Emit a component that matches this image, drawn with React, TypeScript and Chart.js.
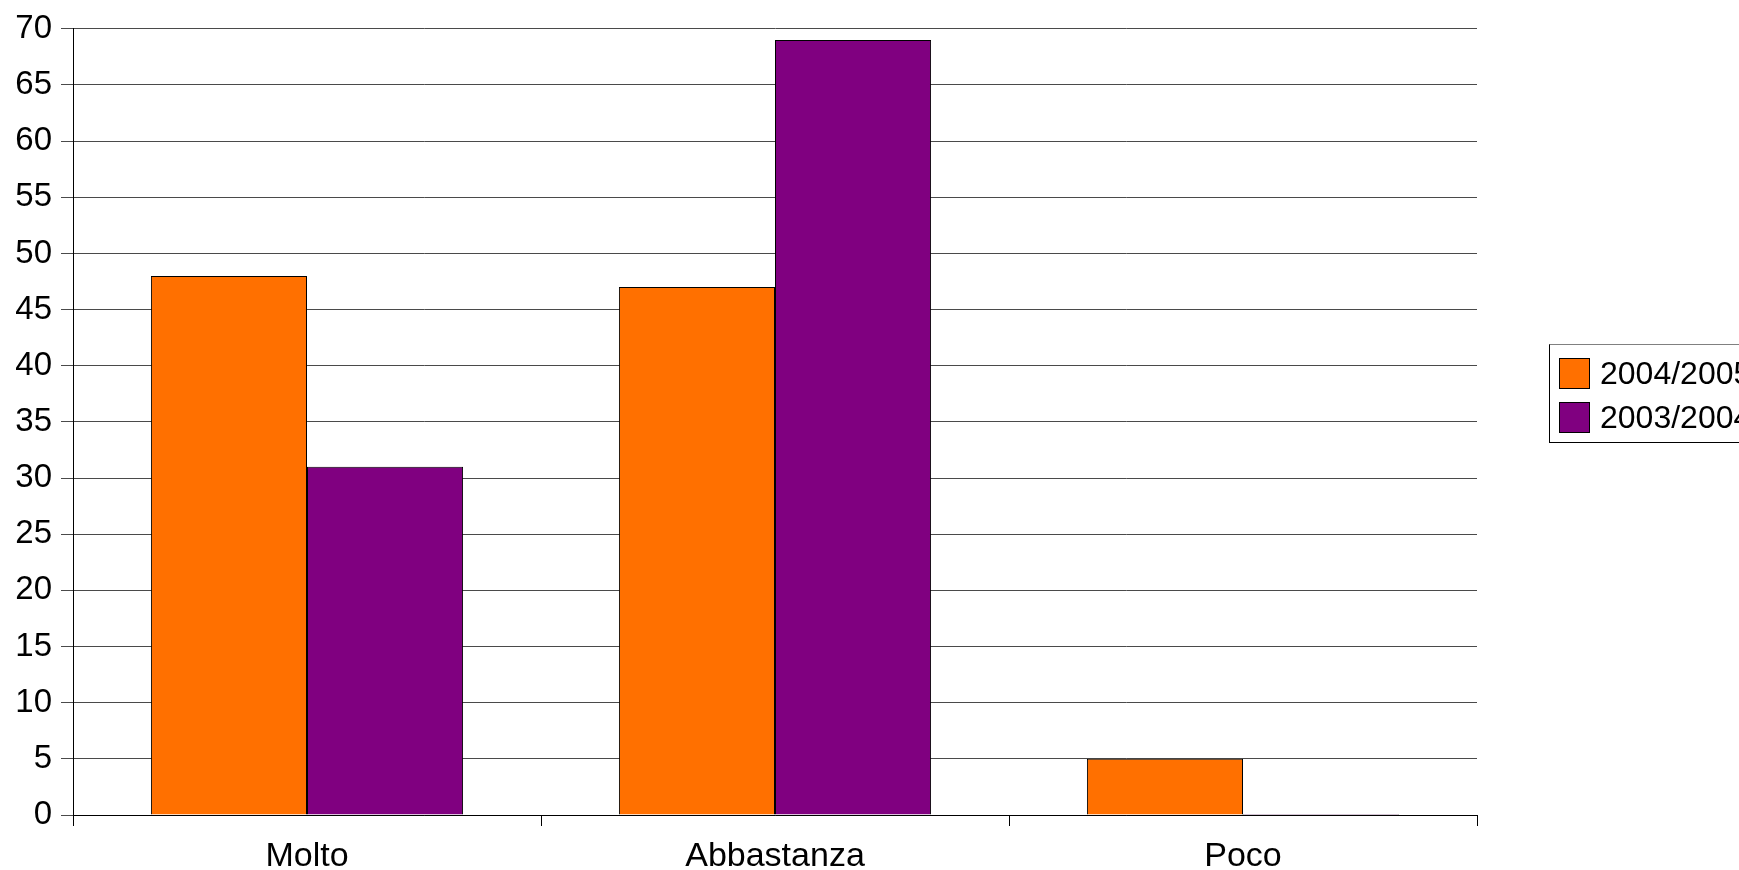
import React, { useEffect, useRef } from "react";
import { Chart, registerables } from "chart.js";

Chart.register(...registerables);

const categories = ["Molto", "Abbastanza", "Poco"];
const series2004_2005 = [48, 47, 5];
const series2003_2004 = [31, 69, 0];
const seriesLabels = ["2004/2005", "2003/2004"];
const seriesColors = ["#ff7000", "#800080"];

export default function App() {
  const canvasRef = useRef<HTMLCanvasElement | null>(null);

  useEffect(() => {
    document.body.style.margin = "0";
    const ctx = canvasRef.current!;
    const chart = new Chart(ctx, {
      type: "bar",
      data: {
        labels: categories,
        datasets: [
          {
            label: seriesLabels[0],
            data: series2004_2005,
            backgroundColor: seriesColors[0],
            borderColor: "#000",
            borderWidth: 1,
            categoryPercentage: 0.667,
            barPercentage: 1.0,
          },
          {
            label: seriesLabels[1],
            data: series2003_2004,
            backgroundColor: seriesColors[1],
            borderColor: "#000",
            borderWidth: 1,
            categoryPercentage: 0.667,
            barPercentage: 1.0,
            minBarLength: 1,
          },
        ],
      },
      options: {
        animation: false,
        responsive: false,
        maintainAspectRatio: false,
        layout: { padding: { left: 0, right: 262, top: 26, bottom: 0 } },
        plugins: { legend: { display: false }, tooltip: { enabled: false } },
        scales: {
          x: {
            grid: {
              offset: true,
              drawOnChartArea: false,
              tickLength: 11,
              color: "#000",
            },
            border: { color: "#000", width: 1 },
            ticks: {
              color: "#000",
              font: { family: "Liberation Sans", size: 34 },
              padding: 10,
            },
            afterFit: (s: any) => {
              s.height = 55;
            },
          },
          y: {
            min: 0,
            max: 70,
            ticks: {
              stepSize: 5,
              color: "#000",
              font: { family: "Liberation Sans", size: 33 },
              padding: 9,
            },
            grid: { color: "#4a4a4a", tickLength: 12 },
            border: { color: "#000", width: 1 },
            afterFit: (s: any) => {
              s.width = 73;
            },
          },
        },
      },
    });
    return () => chart.destroy();
  }, []);

  return (
    <div style={{ position: "relative", width: 1739, height: 870, overflow: "hidden", background: "#fff" }}>
      <canvas ref={canvasRef} width={1739} height={870} style={{ position: "absolute", left: 0, top: 0 }} />
      <div
        style={{
          position: "absolute",
          left: 1549,
          top: 344,
          width: 240,
          height: 99,
          border: "1px solid #000",
          borderTopColor: "#808080",
          boxSizing: "border-box",
          fontFamily: "Liberation Sans",
          fontSize: 32,
          color: "#000",
        }}
      >
        {seriesLabels.map((l, i) => (
          <div key={l} style={{ position: "absolute", left: 9, top: 13 + i * 44, height: 31, display: "flex", alignItems: "center", whiteSpace: "nowrap" }}>
            <span style={{ display: "inline-block", width: 31, height: 31, background: seriesColors[i], border: "1px solid #000", boxSizing: "border-box", marginRight: 10, flexShrink: 0 }} />
            <span style={{ lineHeight: "31px" }}>{l}</span>
          </div>
        ))}
      </div>
    </div>
  );
}
